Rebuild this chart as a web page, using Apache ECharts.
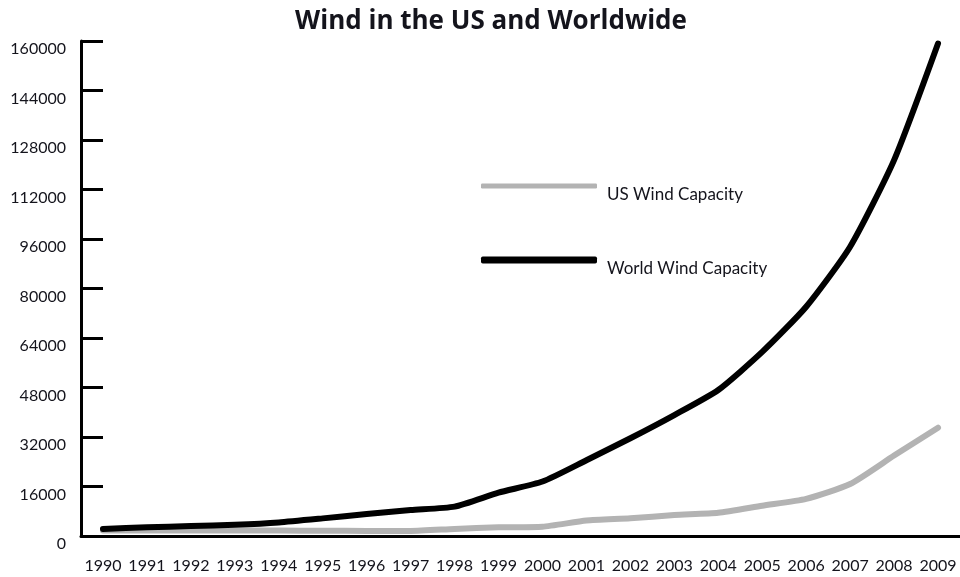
<!DOCTYPE html>
<html>
<head>
<meta charset="utf-8">
<title>Wind in the US and Worldwide</title>
<script src="https://cdn.jsdelivr.net/npm/echarts@6/dist/echarts.min.js"></script>
<style>
  html, body { margin: 0; padding: 0; background: #ffffff; }
  #chart { width: 960px; height: 577px; }
</style>
</head>
<body>
<div id="chart"></div>
<script>
// Installed wind capacity (MW), 1990-2009
const years = ['1990','1991','1992','1993','1994','1995','1996','1997','1998','1999',
               '2000','2001','2002','2003','2004','2005','2006','2007','2008','2009'];
const usCapacity = [1800, 1800, 1800, 1800, 1750, 1700, 1650, 1650, 2300, 2800,
                    3000, 5000, 5700, 6800, 7500, 9800, 12000, 16800, 26000, 35000];
const worldCapacity = [2300, 2800, 3200, 3650, 4400, 5700, 7100, 8400, 9500, 14000,
                       17600, 24500, 31600, 39100, 47200, 59500, 74100, 93500, 121500, 159200];
const yTicks = { min: 0, max: 160000, step: 16000 };

const FONT = 'Lato';
const INK = '#14141c';

// Legend entry: the label sits a little below its line sample
function legendEntry(name, top, thickness) {
  return {
    data: [{ name: name, icon: 'roundRect' }],
    orient: 'vertical',
    left: 481,
    top: top,
    padding: 0,
    itemWidth: 116,
    itemHeight: thickness,
    selectedMode: false,
    formatter: (n) => '\n' + n,
    textStyle: { fontFamily: FONT, fontSize: 17, lineHeight: 18, color: INK, padding: [0, 0, 0, 5] }
  };
}

const chart = echarts.init(document.getElementById('chart'), null, { renderer: 'canvas' });

chart.setOption({
  animation: false,
  backgroundColor: '#ffffff',
  title: {
    text: 'Wind in the US and Worldwide',
    left: 486,
    top: 4,
    textAlign: 'center',
    textStyle: { fontFamily: 'Open Sans', fontWeight: 'bold', fontSize: 26, color: INK }
  },
  legend: [
    legendEntry('US Wind Capacity', 168, 5),
    legendEntry('World Wind Capacity', 242, 7)
  ],
  grid: { left: 81, right: 0, top: 41, bottom: 41 },
  xAxis: {
    type: 'category',
    data: years,
    boundaryGap: true,
    axisLine: { lineStyle: { color: '#000', width: 3 } },
    axisTick: { inside: true, length: 9, lineStyle: { color: '#000', width: 3 } },
    axisLabel: { fontFamily: FONT, fontSize: 16, color: INK, margin: 22, interval: 0 },
    splitLine: { show: false }
  },
  yAxis: {
    type: 'value',
    min: yTicks.min,
    max: yTicks.max,
    interval: yTicks.step,
    axisLine: { show: true, lineStyle: { color: '#000', width: 3 } },
    axisTick: { show: true, inside: true, length: 22, lineStyle: { color: '#000', width: 3 } },
    axisLabel: {
      fontFamily: FONT, fontSize: 16, color: INK, margin: 15, verticalAlign: 'top',
      formatter: (v) => String(v)
    },
    splitLine: { show: false }
  },
  series: [
    {
      name: 'US Wind Capacity',
      type: 'line',
      data: usCapacity,
      smooth: 0.2,
      showSymbol: false,
      symbol: 'none',
      color: '#b3b3b3',
      lineStyle: { color: '#b3b3b3', width: 6, cap: 'round', join: 'round' },
      z: 2
    },
    {
      name: 'World Wind Capacity',
      type: 'line',
      data: worldCapacity,
      smooth: 0.2,
      showSymbol: false,
      symbol: 'none',
      color: '#000000',
      lineStyle: { color: '#000000', width: 6, cap: 'round', join: 'round' },
      z: 3
    }
  ]
});
</script>
</body>
</html>
